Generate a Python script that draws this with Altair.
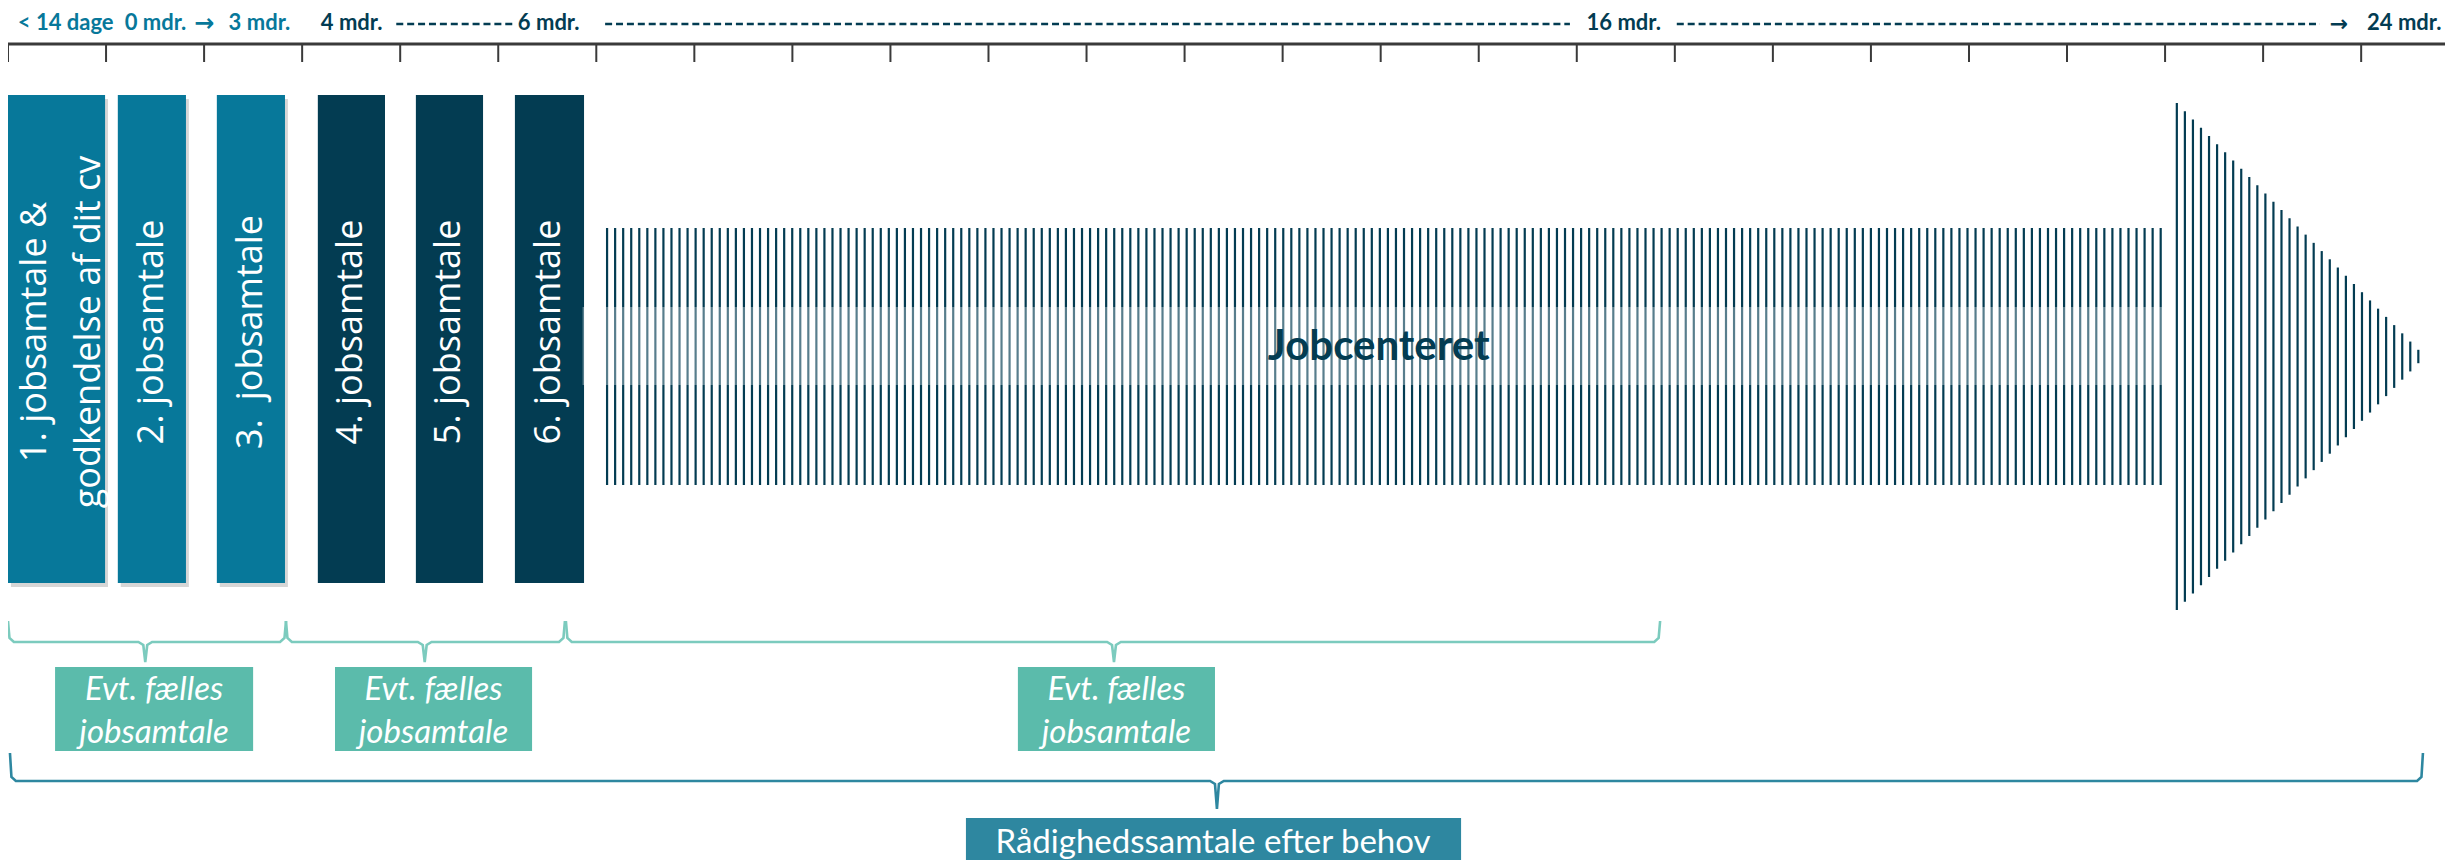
import altair as alt
import numpy as np
import pandas as pd

# ---------------- data ----------------
# x: timeline tick units (one unit per tick on the top axis); y: vertical layout units (top = small)
tick_pos = list(range(0, 25))
axis_span = [0.0, 24.855]
axis_level = 44
tick_span = [44, 62]

header_words = ["< 14 dage", "0 mdr.", "3 mdr.", "4 mdr.", "6 mdr.", "16 mdr.", "24 mdr."]
header_word_x = [0.10, 1.19, 2.25, 3.19, 5.20, 16.10, 24.06]
header_word_tone = ["light", "light", "light", "dark", "dark", "dark", "dark"]
header_arrows = ["\u2192", "\u2192"]
header_arrow_x = [1.90, 23.68]
header_arrow_size = [24, 22]
header_arrow_tone = ["light", "dark"]
header_dash_start = [3.96, 6.09, 17.02]
header_dash_end = [5.17, 15.93, 23.58]
header_baseline = 30
header_arrow_baseline = 31
header_dash_level = 24

bar_start = [0.0, 1.12, 2.13, 3.16, 4.16, 5.17]
bar_end = [0.99, 1.815, 2.825, 3.845, 4.845, 5.875]
bar_tone = ["light", "light", "light", "dark", "dark", "dark"]
bar_top, bar_bottom = 95, 583

bar_labels = ["1. jobsamtale &", "godkendelse af dit cv", "2. jobsamtale",
              "3.\u00a0 jobsamtale", "4. jobsamtale", "5. jobsamtale", "6. jobsamtale"]
bar_label_x = [0.275, 0.83, 1.4675, 2.4775, 3.5025, 4.5025, 5.5225]
bar_label_level = 332

# hatched arrow outline
shaft_span = [6.11, 21.99]
shaft_levels = [228, 485]
head_span = [22.12, 24.65]
head_levels = [103, 610]
hatch_step = 0.0821
band_span = [5.86, 22.05]
band_levels = [307, 385]
center_label = "Jobcenteret"
center_label_x = 13.98
center_label_level = 347

# braces: start, end, tip
brace1_start = [0.0, 2.835, 5.69]
brace1_end = [2.835, 5.68, 16.85]
brace1_tip = [1.40, 4.25, 11.28]
brace1_levels = [621, 642, 662]
brace2_start = [0.02]
brace2_end = [24.63]
brace2_tip = [12.33]
brace2_levels = [753, 781, 809]

evt_box_start = [0.48, 3.335, 10.30]
evt_box_end = [2.50, 5.345, 12.31]
evt_box_levels = [667, 751]
evt_lines = ["Evt. f\u00e6lles", "jobsamtale"]
evt_line_levels = [700, 743]

rad_box = [9.77, 14.82]
rad_box_levels = [818, 880]
rad_label = "R\u00e5dighedssamtale efter behov"
rad_label_x = 12.29
rad_label_level = 853

# ---------------- styling ----------------
LIGHT = "#07789A"
DARK = "#033C52"
TONE = {"light": LIGHT, "dark": DARK}
W, H = 2437, 852
XS = alt.Scale(domain=[0, 24.855], nice=False, zero=False)
YS = alt.Scale(domain=[860, 8], nice=False, zero=False)


def X(f):
    return alt.X(f, type="quantitative", scale=XS, axis=None)


def Y(f):
    return alt.Y(f, type="quantitative", scale=YS, axis=None)


NOCOL = alt.Color("c:N", scale=None, legend=None)

# ---------------- layers ----------------
axis_df = pd.DataFrame({"x": [axis_span[0]], "x2": [axis_span[1]], "y": [axis_level]})
axis_line = alt.Chart(axis_df).mark_rule(color="#3a3a3a", strokeWidth=3).encode(
    x=X("x"), x2="x2", y=Y("y"))

ticks_df = pd.DataFrame({"x": tick_pos, "y": tick_span[0], "y2": tick_span[1]})
ticks = alt.Chart(ticks_df).mark_rule(color="#3a3a3a", strokeWidth=2).encode(
    x=X("x"), y=Y("y"), y2="y2")

hw_df = pd.DataFrame({"t": header_words, "x": header_word_x, "y": header_baseline,
                      "c": [TONE[t] for t in header_word_tone]})
header_text = alt.Chart(hw_df).mark_text(
    font="Lato", fontWeight="bold", fontSize=22, align="left", baseline="alphabetic"
).encode(x=X("x"), y=Y("y"), text="t:N", color=NOCOL)

ha_df = pd.DataFrame({"t": header_arrows, "x": header_arrow_x, "y": header_arrow_baseline,
                      "s": header_arrow_size,
                      "c": [TONE[t] for t in header_arrow_tone]})
header_arrow = alt.Chart(ha_df).mark_text(
    font="DejaVu Sans", fontWeight="bold", align="left", baseline="alphabetic"
).encode(x=X("x"), y=Y("y"), text="t:N", color=NOCOL,
         size=alt.Size("s:Q", scale=None, legend=None))

hd_df = pd.DataFrame({"x": header_dash_start, "x2": header_dash_end, "y": header_dash_level})
header_dash = alt.Chart(hd_df).mark_rule(color=DARK, strokeWidth=2.6, strokeDash=[7, 3.9]).encode(
    x=X("x"), x2="x2", y=Y("y"))

bars_df = pd.DataFrame({"x": bar_start, "x2": bar_end, "y": bar_top, "y2": bar_bottom,
                        "c": [TONE[t] for t in bar_tone]})
shadow_df = bars_df[bars_df["c"] == LIGHT].copy()
shadow_df["x"] = shadow_df["x"] + 0.03
shadow_df["x2"] = shadow_df["x2"] + 0.03
shadow_df["y"] = shadow_df["y"] + 4
shadow_df["y2"] = shadow_df["y2"] + 4
shadows = alt.Chart(shadow_df).mark_rect(color="#000000", opacity=0.16).encode(
    x=X("x"), x2="x2", y=Y("y"), y2="y2")
bars = alt.Chart(bars_df).mark_rect().encode(
    x=X("x"), x2="x2", y=Y("y"), y2="y2", color=NOCOL)

bl_df = pd.DataFrame({"t": bar_labels, "x": bar_label_x, "y": bar_label_level})
bar_text = alt.Chart(bl_df).mark_text(
    font="Open Sans", fontWeight="normal", fontSize=36, angle=270, align="center",
    baseline="middle", color="#FFFFFF"
).encode(x=X("x"), y=Y("y"), text="t:N")

# hatching of the big arrow (texture lines)
shaft_x = np.arange(shaft_span[0], shaft_span[1] + 1e-6, hatch_step)
head_x = np.arange(head_span[0], head_span[1] + 1e-6, hatch_step)
mid = (head_levels[0] + head_levels[1]) / 2
half = (head_levels[1] - head_levels[0]) / 2
frac = 1 - (head_x - head_span[0]) / (head_span[1] - head_span[0])
head_half = np.maximum(half * frac, 4)
hatch_df = pd.DataFrame({
    "x": np.concatenate([shaft_x, head_x]),
    "y": np.concatenate([np.full(len(shaft_x), shaft_levels[0]), mid - head_half]),
    "y2": np.concatenate([np.full(len(shaft_x), shaft_levels[1]), mid + head_half]),
})
hatch = alt.Chart(hatch_df).mark_rule(color=DARK, strokeWidth=2.2).encode(
    x=X("x"), y=Y("y"), y2="y2")

band_df = pd.DataFrame({"x": [band_span[0]], "x2": [band_span[1]],
                        "y": [band_levels[0]], "y2": [band_levels[1]]})
band = alt.Chart(band_df).mark_rect(color="#FFFFFF", opacity=0.34).encode(
    x=X("x"), x2="x2", y=Y("y"), y2="y2")

cl_df = pd.DataFrame({"t": [center_label], "x": [center_label_x], "y": [center_label_level]})
center_text = alt.Chart(cl_df).mark_text(
    font="Lato", fontWeight="bold", fontSize=42, align="center", baseline="middle", color=DARK
).encode(x=X("x"), y=Y("y"), text="t:N")


def brace_rows(starts, ends, tips, levels, color, tag):
    top, line, tip = levels
    rows = []
    for k, (a, b, m) in enumerate(zip(starts, ends, tips)):
        pts = [(a, top), (a + 0.015, line - 4), (a + 0.06, line), (m - 0.07, line),
               (m - 0.02, line + 3), (m, tip), (m + 0.02, line + 3), (m + 0.07, line),
               (b - 0.06, line), (b - 0.015, line - 4), (b, top)]
        for i, (px, py) in enumerate(pts):
            rows.append({"id": f"{tag}{k}", "i": i, "x": px, "y": py, "c": color})
    return rows


brace_df = pd.DataFrame(
    brace_rows(brace1_start, brace1_end, brace1_tip, brace1_levels, "#7CCBBE", "a")
    + brace_rows(brace2_start, brace2_end, brace2_tip, brace2_levels, "#2E87A0", "b"))
braces = alt.Chart(brace_df).mark_line(strokeWidth=2.6).encode(
    x=X("x"), y=Y("y"), detail="id:N", order="i:Q", color=NOCOL)

evt_df = pd.DataFrame({"x": evt_box_start, "x2": evt_box_end,
                       "y": evt_box_levels[0], "y2": evt_box_levels[1]})
evt_boxes = alt.Chart(evt_df).mark_rect(color="#5BBBAB").encode(
    x=X("x"), x2="x2", y=Y("y"), y2="y2")
evt_text_rows = []
for a, b in zip(evt_box_start, evt_box_end):
    for line, lev in zip(evt_lines, evt_line_levels):
        evt_text_rows.append({"t": line, "x": (a + b) / 2, "y": lev})
evt_text = alt.Chart(pd.DataFrame(evt_text_rows)).mark_text(
    font="Lato", fontStyle="italic", fontSize=33, align="center", baseline="alphabetic",
    color="#FFFFFF"
).encode(x=X("x"), y=Y("y"), text="t:N")

rad_df = pd.DataFrame({"x": [rad_box[0]], "x2": [rad_box[1]],
                       "y": [rad_box_levels[0]], "y2": [rad_box_levels[1]]})
rad_rect = alt.Chart(rad_df).mark_rect(color="#2E87A0").encode(
    x=X("x"), x2="x2", y=Y("y"), y2="y2")
rad_text = alt.Chart(pd.DataFrame({"t": [rad_label], "x": [rad_label_x], "y": [rad_label_level]})).mark_text(
    font="Lato", fontSize=33, align="center", baseline="alphabetic", color="#FFFFFF"
).encode(x=X("x"), y=Y("y"), text="t:N")

chart = alt.layer(
    axis_line, ticks, header_dash, header_text, header_arrow,
    shadows, bars, bar_text, hatch, band, center_text,
    braces, evt_boxes, evt_text, rad_rect, rad_text,
).properties(width=W, height=H, autosize="none", padding=0).configure_view(stroke=None)

chart.save("out.html", embed_options={"renderer": "svg", "actions": False})
